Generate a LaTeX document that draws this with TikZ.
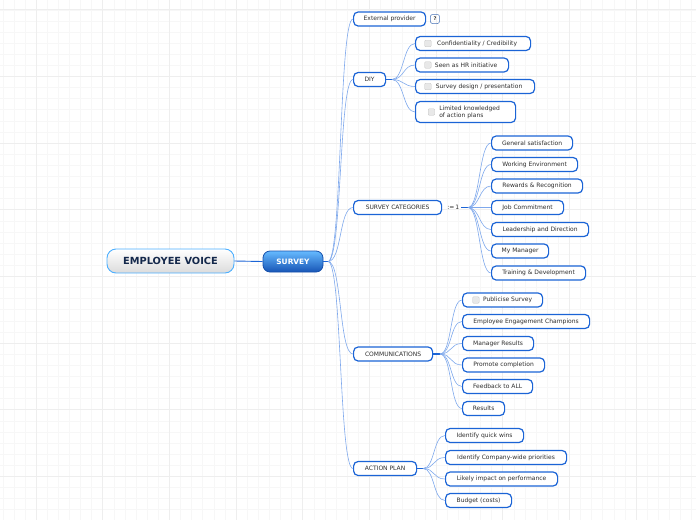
\documentclass[tikz,border=0pt]{standalone}
\usepackage{fontspec}
\setsansfont{DejaVu Sans}
\usetikzlibrary{positioning}

\definecolor{topicblue}{HTML}{1B64D6}
\definecolor{linkblue}{HTML}{7EA8EC}
\definecolor{txtgray}{HTML}{2E2E2E}
\definecolor{chkgray}{HTML}{C4C4C4}
\definecolor{chkfill}{HTML}{E8E8E8}
\definecolor{gridminor}{HTML}{F7F7F7}
\definecolor{gridmajor}{HTML}{EEEEEE}
\definecolor{evnavy}{HTML}{14284B}

\begin{document}
\begin{tikzpicture}[x=1pt, y=-1pt, font=\sffamily\fontsize{6}{7}\selectfont,
  topic/.style={draw=topicblue, line width=1.2pt, fill=white, rounded corners=4.5pt,
    minimum height=14pt, inner sep=1pt, anchor=west, text=txtgray, align=center},
  link/.style={draw=linkblue, line width=0.6pt},
  stub/.style={draw=topicblue, line width=1.8pt},
  chk/.style={draw=chkgray, fill=chkfill, rounded corners=1pt, minimum size=6.5pt,
    inner sep=0pt, line width=0.4pt}]
  \useasboundingbox (0,0) rectangle (696,520);

  % raster
  \foreach \gx in {2.7,13.81,...,696} \draw[gridminor, line width=0.4pt] (\gx,0) -- (\gx,520);
  \foreach \gy in {9.7,20.81,...,520} \draw[gridminor, line width=0.4pt] (0,\gy) -- (696,\gy);
  \foreach \gx in {36,102.67,...,696} \draw[gridmajor, line width=0.5pt] (\gx,0) -- (\gx,520);
  \foreach \gy in {9.7,76.37,...,520} \draw[gridmajor, line width=0.5pt] (0,\gy) -- (696,\gy);

  % centru
  \node[draw=blue!45!cyan!70!white, line width=0.9pt, rounded corners=9pt,
    top color=white, bottom color=gray!28, minimum width=127pt, minimum height=24pt,
    text=evnavy, font=\sffamily\bfseries\fontsize{9.8}{11}\selectfont] (ev) at (170.5,261) {EMPLOYEE VOICE};
  \node[draw=topicblue!80!black, line width=0.8pt, rounded corners=7pt,
    top color=blue!45!cyan!60!white, bottom color=topicblue!85!black,
    minimum width=60pt, minimum height=21pt, text=white,
    font=\sffamily\bfseries\fontsize{7.4}{9}\selectfont] (survey) at (293,261.5) {SURVEY};
  \draw[topicblue, line width=0.9pt] (ev.east) -- (survey.west);
  \coordinate (survey-s) at (328,261.5);
  \draw[stub] (survey.east) -- (survey-s);

  % ramuri principale
  \foreach \nm/\yy/\ww/\txt in {ext/19/72/External provider, diy/79.5/32/DIY,
      cat/207.5/88/SURVEY CATEGORIES, comm/354/79/COMMUNICATIONS, act/468.5/63/ACTION PLAN}{
    \node[topic, minimum width=\ww pt] (\nm) at (353,\yy) {\txt};
    \draw[link] (survey-s) .. controls +(14,0) and +(-14,0) .. (\nm.west);
  }
  \node[draw=topicblue!60!gray, line width=0.5pt, rounded corners=2pt, minimum size=9pt,
    inner sep=0pt, font=\sffamily\bfseries\fontsize{5}{5}\selectfont, text=txtgray,
    right=4pt of ext] (note) {?};

  % DIY
  \coordinate (diy-s) at (392,79.5);
  \draw[stub] (diy.east) -- (diy-s);
  \node[topic, minimum width=115pt] (conf) at (415,43.5) {\hspace*{8pt}Confidentiality / Credibility};
  \node[topic, minimum width=93pt] (hr) at (415,65) {\hspace*{8pt}Seen as HR initiative};
  \node[topic, minimum width=119pt] (design) at (415,86.5) {\hspace*{8pt}Survey design / presentation};
  \node[topic, minimum width=100pt, minimum height=21pt, align=left] (limit) at (415,112)
    {\hspace*{8pt}Limited knowledged\\\hspace*{8pt}of action plans};
  \foreach \nm in {conf, hr, design, limit}{
    \draw[link] (diy-s) .. controls +(12,0) and +(-12,0) .. (\nm.west);
  }
  \node[chk, right=9.5pt of conf.west] (conf-chk) {};
  \node[chk, right=9.5pt of hr.west] (hr-chk) {};
  \node[chk, right=9.5pt of design.west] (design-chk) {};
  \node[chk, right=13pt of limit.west] (limit-chk) {};

  % categorii
  \node[text=txtgray, inner sep=0pt, right=5pt of cat] (rule) {:=\,1};
  \coordinate (cat-s) at (468,207.5);
  \draw[stub] (rule.east) ++(2,0) -- (cat-s);
  \foreach \nm/\yy/\ww/\txt in {gen/143/81/General satisfaction, work/164.5/86/Working Environment,
      rew/186/91/Rewards \& Recognition, job/207.5/72/Job Commitment,
      lead/229.5/97/Leadership and Direction, mgr/251/57/My Manager,
      train/273/94/Training \& Development}{
    \node[topic, minimum width=\ww pt] (\nm) at (491,\yy) {\txt};
    \draw[link] (cat-s) .. controls +(12,0) and +(-12,0) .. (\nm.west);
  }

  % comunicare
  \coordinate (comm-s) at (440,354);
  \draw[stub] (comm.east) -- (comm-s);
  \foreach \nm/\yy/\ww/\txt in {pub/300/80/\hspace*{10pt}Publicise Survey,
      champ/321.5/127/Employee Engagement Champions, mres/343.5/71/Manager Results,
      prom/365/82/Promote completion, feed/386.5/70/Feedback to ALL, res/408.5/42/Results}{
    \node[topic, minimum width=\ww pt] (\nm) at (462,\yy) {\txt};
    \draw[link] (comm-s) .. controls +(12,0) and +(-12,0) .. (\nm.west);
  }
  \node[chk, right=10.5pt of pub.west] (pub-chk) {};

  % plan de actiune
  \coordinate (act-s) at (423,468.5);
  \draw[stub] (act.east) -- (act-s);
  \foreach \nm/\yy/\ww/\txt in {wins/435.5/78/Identify quick wins,
      prio/457.5/121/Identify Company-wide priorities,
      impact/479/112/Likely impact on performance, budget/500.5/66/Budget (costs)}{
    \node[topic, minimum width=\ww pt] (\nm) at (445,\yy) {\txt};
    \draw[link] (act-s) .. controls +(12,0) and +(-12,0) .. (\nm.west);
  }
\end{tikzpicture}
\end{document}
